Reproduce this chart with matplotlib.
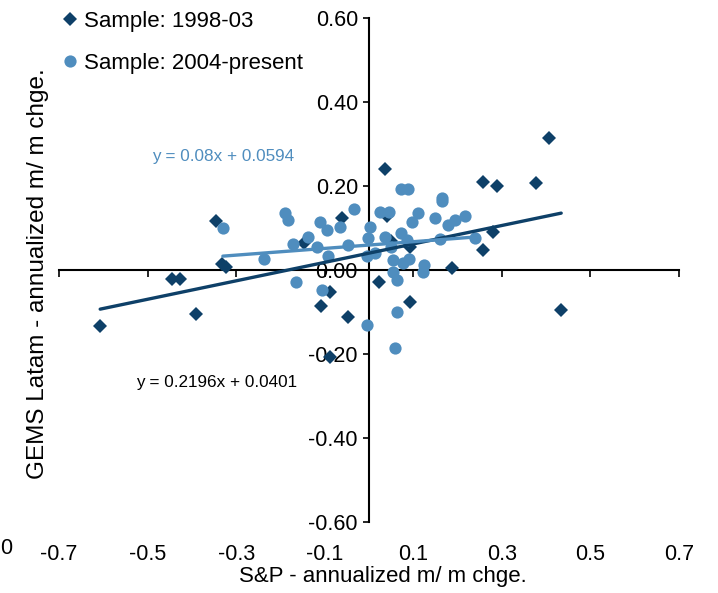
import matplotlib.pyplot as plt

plt.rcParams['font.family'] = ['Liberation Sans', 'DejaVu Sans']
plt.rcParams['axes.unicode_minus'] = False

dark = '#0e4068'
light = '#4f8dbe'

# Sample: 1998-03
old_x = [-0.607, -0.445, -0.427, -0.391, -0.345, -0.332, -0.323, -0.147, -0.061,
         -0.088, -0.108, -0.047, -0.088, 0.036, 0.040, 0.023, 0.093, 0.093,
         0.050, 0.187, 0.257, 0.289, 0.377, 0.406, 0.280, 0.257, 0.434]
old_y = [-0.133, -0.021, -0.021, -0.105, 0.117, 0.014, 0.007, 0.064, 0.124,
         -0.052, -0.086, -0.111, -0.207, 0.240, 0.129, -0.028, -0.076, 0.055,
         0.070, 0.005, 0.210, 0.200, 0.207, 0.314, 0.090, 0.048, -0.095]

# Sample: 2004-present
new_x = [-0.330, -0.237, -0.190, -0.183, -0.172, -0.165, -0.138, -0.117, -0.111,
         -0.095, -0.106, -0.093, -0.065, -0.047, -0.034, -0.005, -0.002, 0.002,
         -0.005, 0.014, 0.025, 0.045, 0.036, 0.054, 0.054, 0.063, 0.063, 0.059,
         0.072, 0.088, 0.072, 0.077, 0.086, 0.097, 0.111, 0.090, 0.124, 0.122,
         0.149, 0.165, 0.165, 0.160, 0.178, 0.194, 0.217, 0.239, 0.050]
new_y = [0.100, 0.026, 0.136, 0.119, 0.062, -0.029, 0.079, 0.055, 0.114,
         0.095, -0.048, 0.033, 0.102, 0.060, 0.145, -0.131, 0.076, 0.102,
         0.033, 0.040, 0.138, 0.138, 0.079, 0.024, -0.005, -0.024, -0.100, -0.186,
         0.193, 0.193, 0.088, 0.017, 0.071, 0.114, 0.136, 0.026, 0.012, -0.005,
         0.124, 0.171, 0.164, 0.074, 0.107, 0.119, 0.129, 0.076, 0.055]

# trend lines as printed on the chart
old_slope, old_icpt = 0.2196, 0.0401
new_slope, new_icpt = 0.08, 0.0594

xticks = [-0.7, -0.5, -0.3, -0.1, 0.1, 0.3, 0.5, 0.7]
yticks = [-0.6, -0.4, -0.2, 0.0, 0.2, 0.4, 0.6]

fig = plt.figure(figsize=(7.18, 5.93), dpi=100)
ax = fig.add_axes([59/718, 71/593, 620/718, 504/593])

ax.plot(old_x, old_y, 'D', color=dark, ms=7.4, mew=0, zorder=3, label='Sample: 1998-03')
ax.plot(new_x, new_y, 'o', color=light, ms=8.8, mew=0, zorder=3, label='Sample: 2004-present')

x0, x1 = min(old_x), max(old_x)
ax.plot([x0, x1], [old_slope*x0 + old_icpt, old_slope*x1 + old_icpt],
        color=dark, lw=2.4, solid_capstyle='round', zorder=4)
x0, x1 = min(new_x), max(new_x)
ax.plot([x0, x1], [new_slope*x0 + new_icpt, new_slope*x1 + new_icpt],
        color=light, lw=2.4, solid_capstyle='round', zorder=4)

ax.text(-0.49, 0.271, 'y = 0.08x + 0.0594', color=light, fontsize=12.3, va='center')
ax.text(-0.526, -0.269, 'y = 0.2196x + 0.0401', color='black', fontsize=12.3, va='center')

ax.set_xlim(-0.7, 0.7)
ax.set_ylim(-0.6, 0.6)
for s in ['top', 'right']:
    ax.spines[s].set_visible(False)
ax.spines['left'].set_position(('data', 0))
ax.spines['bottom'].set_position(('data', 0))
ax.spines['left'].set_linewidth(1.5)
ax.spines['bottom'].set_linewidth(1.5)

ax.set_xticks(xticks)
ax.tick_params(axis='x', labelbottom=False, direction='out', length=5, width=1.2)
ax.set_yticks(yticks)
ax.set_yticklabels(['%.2f' % v for v in yticks])
ax.tick_params(axis='y', direction='out', length=4, width=1.2, labelsize=15.5, pad=4)

sec = ax.secondary_xaxis('bottom')
sec.set_xticks(xticks)
sec.set_xticklabels(['%.1f' % v for v in xticks])
sec.spines['bottom'].set_visible(False)
sec.tick_params(length=0, pad=15.5, labelsize=15.5)
sec.set_xlabel('S&P - annualized m/ m chge.', fontsize=16, labelpad=1, x=0.523)

fig.text(38/718, 0.538, 'GEMS Latam - annualized m/ m chge.', rotation=90,
         ha='center', va='center', fontsize=17.5)
fig.text(0, 45/593, '0', ha='left', va='center', fontsize=15.5)

fig.legend(loc='upper left', bbox_to_anchor=(50/718, 1.0), frameon=False, fontsize=16,
           handlelength=0.8, handletextpad=0.25, labelspacing=0.95, borderaxespad=0.1)

fig.savefig('out.png', dpi=100)
